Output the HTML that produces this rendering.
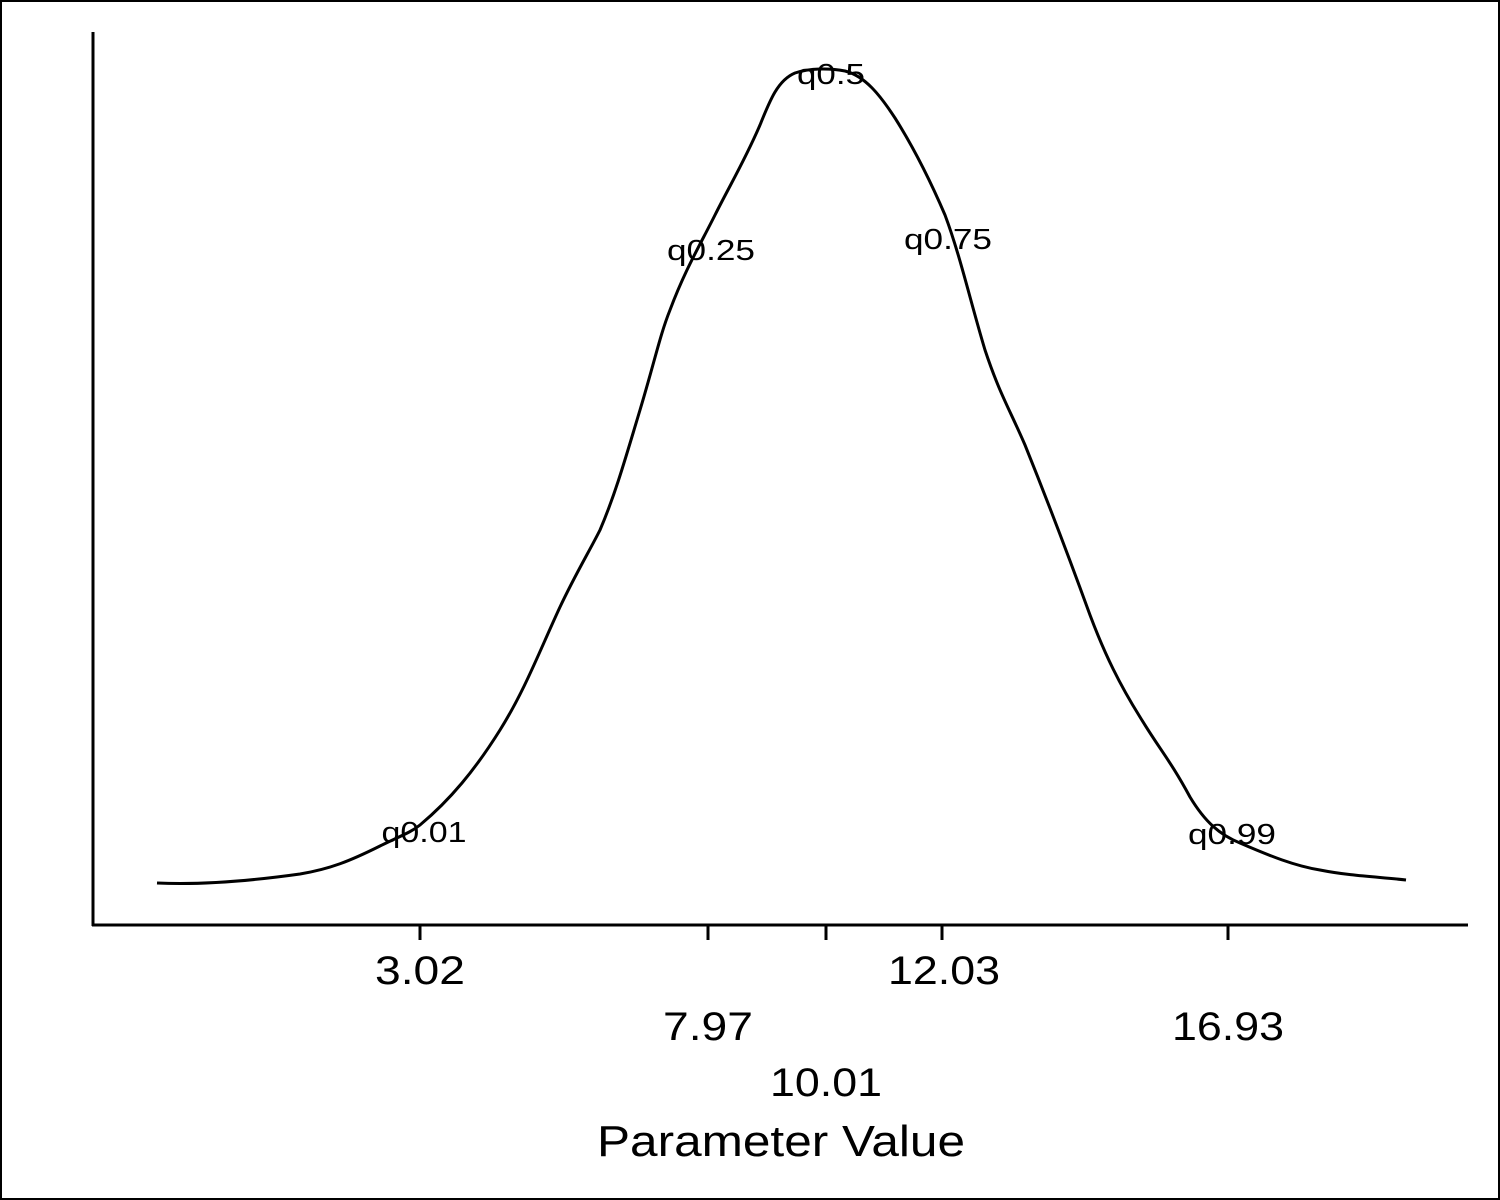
<!DOCTYPE html>
<html><head><meta charset="utf-8"><style>
html,body{margin:0;padding:0;background:#fff;}
svg{display:block;}
text{font-family:"Liberation Sans",Arial,sans-serif;fill:#000;}
</style></head><body>
<svg width="1500" height="1200" viewBox="0 0 1500 1200" xmlns="http://www.w3.org/2000/svg">
<rect x="1" y="1" width="1498" height="1198" fill="#fff" stroke="#000" stroke-width="2"/>
<line x1="93" y1="32" x2="93" y2="926" stroke="#000" stroke-width="3"/>
<line x1="92" y1="925" x2="1468" y2="925" stroke="#000" stroke-width="3"/>
<g stroke="#000" stroke-width="3">
<line x1="420" y1="925" x2="420" y2="940"/>
<line x1="708" y1="925" x2="708" y2="940"/>
<line x1="826" y1="925" x2="826" y2="940"/>
<line x1="942" y1="925" x2="942" y2="940"/>
<line x1="1228" y1="925" x2="1228" y2="940"/>
</g>
<path fill="none" stroke="#000" stroke-width="3" stroke-linejoin="round" d="M157,883 C200,885 250,881 300,874 C330,869 350,861 380,846 C400,836 410,833 420,825 C450,800 475,770 500,730 C525,690 540,650 560,607 C575,575 590,550 600,530 C615,495 625,460 640,410 C655,360 660,335 670,310 C685,270 700,245 715,215 C730,185 745,160 760,125 C770,100 778,80 795,73 C810,68 830,68 845,71 C865,76 880,95 895,118 C912,145 930,180 945,215 C960,255 970,300 985,350 C1000,395 1010,410 1025,445 C1050,507 1070,560 1090,615 C1105,655 1120,685 1140,717 C1160,750 1170,760 1190,797 C1205,822 1220,835 1240,843 C1270,856 1295,866 1320,870 C1350,876 1380,877 1406,880"/>
<g font-size="29" text-anchor="middle">
<text x="424" y="842" textLength="85" lengthAdjust="spacingAndGlyphs">q0.01</text>
<text x="711" y="260" textLength="88" lengthAdjust="spacingAndGlyphs">q0.25</text>
<text x="831" y="84" textLength="68" lengthAdjust="spacingAndGlyphs">q0.5</text>
<text x="948" y="249" textLength="88" lengthAdjust="spacingAndGlyphs">q0.75</text>
<text x="1232" y="844" textLength="88" lengthAdjust="spacingAndGlyphs">q0.99</text>
</g>
<g font-size="40" text-anchor="middle">
<text x="420" y="984" textLength="90" lengthAdjust="spacingAndGlyphs">3.02</text>
<text x="944" y="984" textLength="112" lengthAdjust="spacingAndGlyphs">12.03</text>
<text x="708" y="1040" textLength="90" lengthAdjust="spacingAndGlyphs">7.97</text>
<text x="1228" y="1040" textLength="112" lengthAdjust="spacingAndGlyphs">16.93</text>
<text x="826" y="1096" textLength="112" lengthAdjust="spacingAndGlyphs">10.01</text>
</g>
<text x="781" y="1156" font-size="44" text-anchor="middle" textLength="368" lengthAdjust="spacingAndGlyphs">Parameter Value</text>
</svg>
</body></html>
